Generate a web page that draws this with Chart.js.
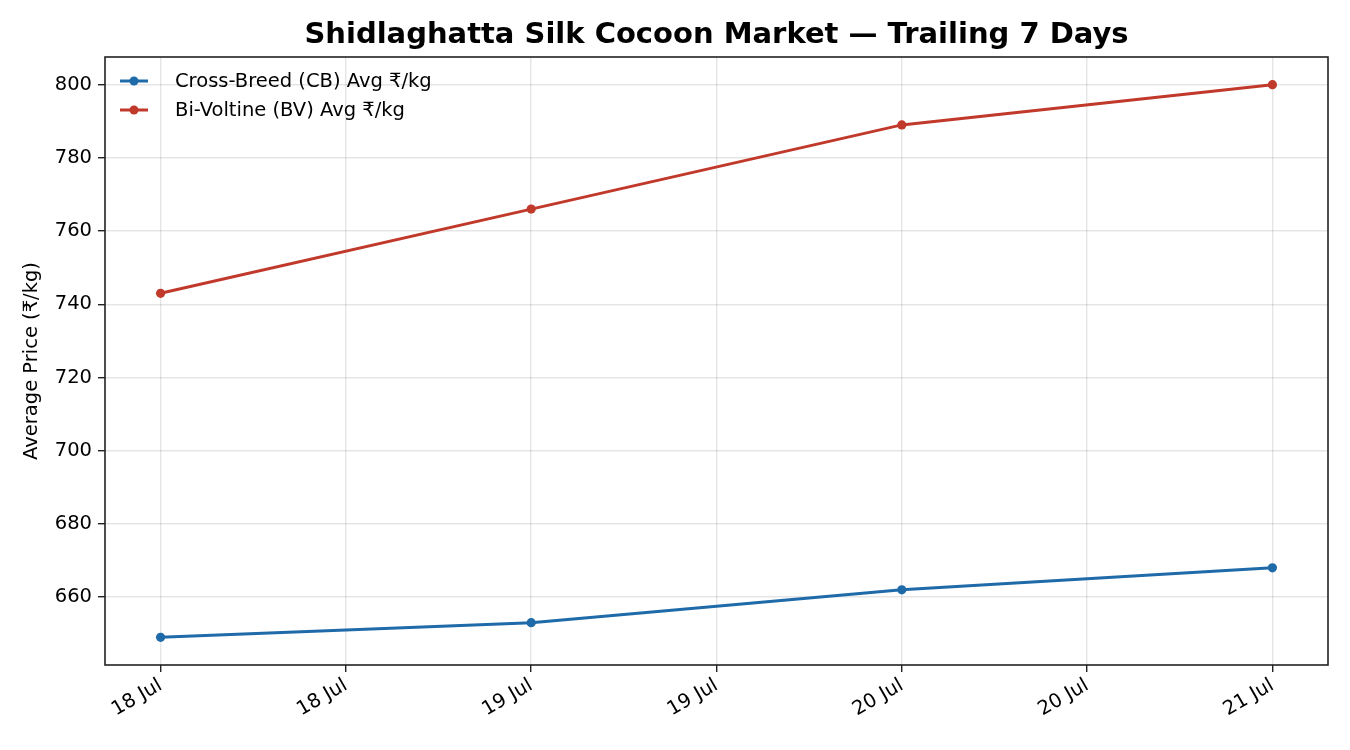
<!DOCTYPE html>
<html>
<head>
<meta charset="utf-8">
<script src="https://cdn.jsdelivr.net/npm/chart.js@4.4.0/dist/chart.umd.min.js"></script>
<style>
  html, body { margin: 0; padding: 0; background: #fff; }
  #wrap { width: 1350px; height: 750px; position: relative; }
</style>
</head>
<body>
<div id="wrap"><canvas id="priceChart"></canvas></div>
<script>
// days since 18 Jul
const dayIndex = [0, 1, 2, 3];
const dayLabels = ['18 Jul', '19 Jul', '20 Jul', '21 Jul'];
const cbPrices = [649, 653, 662, 668];
const bvPrices = [743, 766, 789, 800];
const xTickValues = [0, 0.5, 1, 1.5, 2, 2.5, 3];
const xTickLabels = ['18 Jul', '18 Jul', '19 Jul', '19 Jul', '20 Jul', '20 Jul', '21 Jul'];
const yTickValues = [660, 680, 700, 720, 740, 760, 780, 800];

const FONT = "'DejaVu Sans', sans-serif";
const blue = '#1f6aa8';
const red = '#c0392b';

function points(vals) {
    return dayIndex.map((d, i) => ({ x: d, y: vals[i] }));
}

// frame, title and in-axes legend like matplotlib
const extras = {
    id: 'extras',
    afterDraw(chart) {
        const ctx = chart.ctx;
        const a = chart.chartArea;
        ctx.save();
        ctx.strokeStyle = '#222';
        ctx.lineWidth = 1.6;
        ctx.strokeRect(a.left, a.top, a.right - a.left, a.bottom - a.top);

        ctx.fillStyle = '#000';
        ctx.font = "bold 29px " + FONT;
        ctx.textAlign = 'center';
        ctx.textBaseline = 'middle';
        ctx.fillText('Shidlaghatta Silk Cocoon Market \u2014 Trailing 7 Days', (a.left + a.right) / 2, 35);

        ctx.font = "19.5px " + FONT;
        ctx.textAlign = 'left';
        chart.data.datasets.forEach((ds, i) => {
            const y = a.top + 24 + i * 29;
            ctx.strokeStyle = ds.borderColor;
            ctx.lineWidth = 3;
            ctx.beginPath();
            ctx.moveTo(a.left + 15, y);
            ctx.lineTo(a.left + 43, y);
            ctx.stroke();
            ctx.fillStyle = ds.borderColor;
            ctx.beginPath();
            ctx.arc(a.left + 29, y, 4.5, 0, Math.PI * 2);
            ctx.fill();
            ctx.fillStyle = '#000';
            ctx.fillText(ds.label, a.left + 70, y + 1);
        });
        ctx.restore();
    }
};

const ctx = document.getElementById('priceChart').getContext('2d');
const priceChart = new Chart(ctx, {
    type: 'line',
    data: {
        datasets: [{
            label: 'Cross-Breed (CB) Avg \u20b9/kg',
            data: points(cbPrices),
            borderColor: blue,
            backgroundColor: blue,
            borderWidth: 3,
            pointRadius: 4.6,
            pointBorderWidth: 0,
            pointHoverRadius: 4.6,
            tension: 0
        }, {
            label: 'Bi-Voltine (BV) Avg \u20b9/kg',
            data: points(bvPrices),
            borderColor: red,
            backgroundColor: red,
            borderWidth: 3,
            pointRadius: 4.6,
            pointBorderWidth: 0,
            pointHoverRadius: 4.6,
            tension: 0
        }]
    },
    options: {
        responsive: true,
        maintainAspectRatio: false,
        animation: false,
        layout: { padding: { top: 57, right: 22, left: 0, bottom: 0 } },
        plugins: {
            legend: { display: false },
            title: { display: false },
            tooltip: { enabled: false }
        },
        scales: {
            x: {
                type: 'linear',
                min: -0.15,
                max: 3.15,
                afterBuildTicks(scale) {
                    scale.ticks = xTickValues.map(v => ({ value: v }));
                },
                afterFit(scale) { scale.height = 85; },
                grid: { color: 'rgba(0,0,0,0.1)', tickColor: '#222', tickLength: 7, lineWidth: 1.4 },
                border: { display: false },
                ticks: {
                    font: { family: FONT, size: 19.5 },
                    color: '#000',
                    maxRotation: 30,
                    minRotation: 30,
                    padding: 2,
                    callback: (v) => {
                        const i = xTickValues.indexOf(v);
                        return i >= 0 ? xTickLabels[i] : '';
                    }
                }
            },
            y: {
                min: 641.45,
                max: 807.55,
                afterBuildTicks(scale) {
                    scale.ticks = yTickValues.map(v => ({ value: v }));
                },
                afterFit(scale) { scale.width = 105; },
                grid: { color: 'rgba(0,0,0,0.1)', tickColor: '#222', tickLength: 7, lineWidth: 1.4 },
                border: { display: false },
                title: {
                    display: true,
                    text: 'Average Price (\u20b9/kg)',
                    font: { family: FONT, size: 19.5 },
                    color: '#000',
                    padding: { top: 20, bottom: 4 }
                },
                ticks: {
                    font: { family: FONT, size: 19.5 },
                    color: '#000',
                    padding: 6
                }
            }
        }
    },
    plugins: [extras]
});
</script>
</body>
</html>
